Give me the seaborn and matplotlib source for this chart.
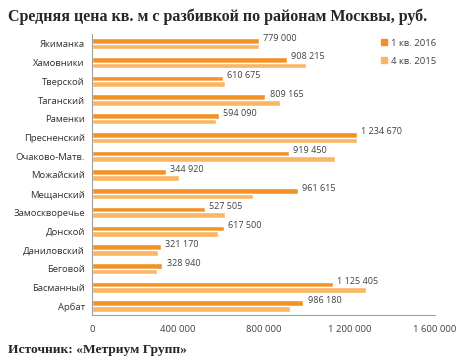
import numpy as np
import pandas as pd
import matplotlib
matplotlib.use("Agg")
import matplotlib.pyplot as plt
import seaborn as sns

districts = ["Якиманка", "Хамовники", "Тверской", "Таганский", "Раменки",
             "Пресненский", "Очаково-Матв.", "Можайский", "Мещанский",
             "Замоскворечье", "Донской", "Даниловский", "Беговой",
             "Басманный", "Арбат"]
q1_2016 = [779000, 908215, 610675, 809165, 594090, 1234670, 919450, 344920,
           961615, 527505, 617500, 321170, 328940, 1125405, 986180]
q4_2015 = [779000, 998000, 620000, 877000, 578000, 1235000, 1133000, 407000,
           749000, 620000, 589000, 309000, 302000, 1277000, 923000]
series = ["1 кв. 2016", "4 кв. 2015"]
x_ticks = [0, 400000, 800000, 1200000, 1600000]

df = pd.DataFrame({
    "district": districts * 2,
    "value": q1_2016 + q4_2015,
    "period": [series[0]] * len(districts) + [series[1]] * len(districts),
})

sns.set_style("white")
plt.rcParams["font.family"] = ["Open Sans", "DejaVu Sans"]

fig = plt.figure(figsize=(4.76, 3.63), dpi=100)
ax = fig.add_axes([0.193, 0.131, 0.721, 0.774])

palette = {series[0]: "#F39125", series[1]: "#FBB664"}
sns.barplot(data=df, x="value", y="district", hue="period", order=districts,
            hue_order=series, palette=palette, orient="h", width=0.6,
            saturation=1, legend=False, ax=ax)


def fmt(v):
    return f"{v:,}".replace(",", " ")


for i, v in enumerate(q1_2016):
    ax.annotate(fmt(v), xy=(v, i - 0.3), xytext=(3, 0), textcoords="offset points",
                ha="left", va="center", fontsize=6.5, color="#404040")

ax.set_xlim(0, 1600000)
ax.set_ylim(len(districts) - 0.5, -0.5)
ax.set_xticks(x_ticks)
ax.set_xticklabels([fmt(t) for t in x_ticks], fontsize=6.8, color="#404040")
ax.set_yticks(range(len(districts)))
ax.set_yticklabels(districts, fontsize=6.8, color="#303030")
ax.set_yticks(np.arange(-0.5, len(districts), 1), minor=True)
ax.tick_params(axis="y", which="major", length=0, pad=5)
ax.tick_params(axis="y", which="minor", length=4, color="#A0A0A0", width=0.8)
ax.tick_params(axis="x", length=4, color="#A0A0A0", width=0.8, pad=3)
ax.set_xlabel("")
ax.set_ylabel("")
for side in ["top", "right"]:
    ax.spines[side].set_visible(False)
for side in ["left", "bottom"]:
    ax.spines[side].set_color("#A0A0A0")
    ax.spines[side].set_linewidth(0.8)

handles = [plt.Line2D([], [], marker="s", linestyle="", markersize=5,
                      color=palette[s]) for s in series]
fig.legend(handles, series, loc="upper left", bbox_to_anchor=(0.783, 0.917),
           frameon=False, fontsize=6.8, handlelength=0.6, handletextpad=0.4,
           labelspacing=0.95, labelcolor="#404040")

fig.text(0.017, 0.955, "Средняя цена кв. м с разбивкой по районам Москвы, руб.",
         fontsize=11.5, fontweight="bold", family="Liberation Serif", va="center")
fig.text(0.017, 0.035, "Источник: «Метриум Групп»", fontsize=9.7,
         fontweight="bold", family="Liberation Serif", va="center")

fig.savefig("out.png", dpi=100)
